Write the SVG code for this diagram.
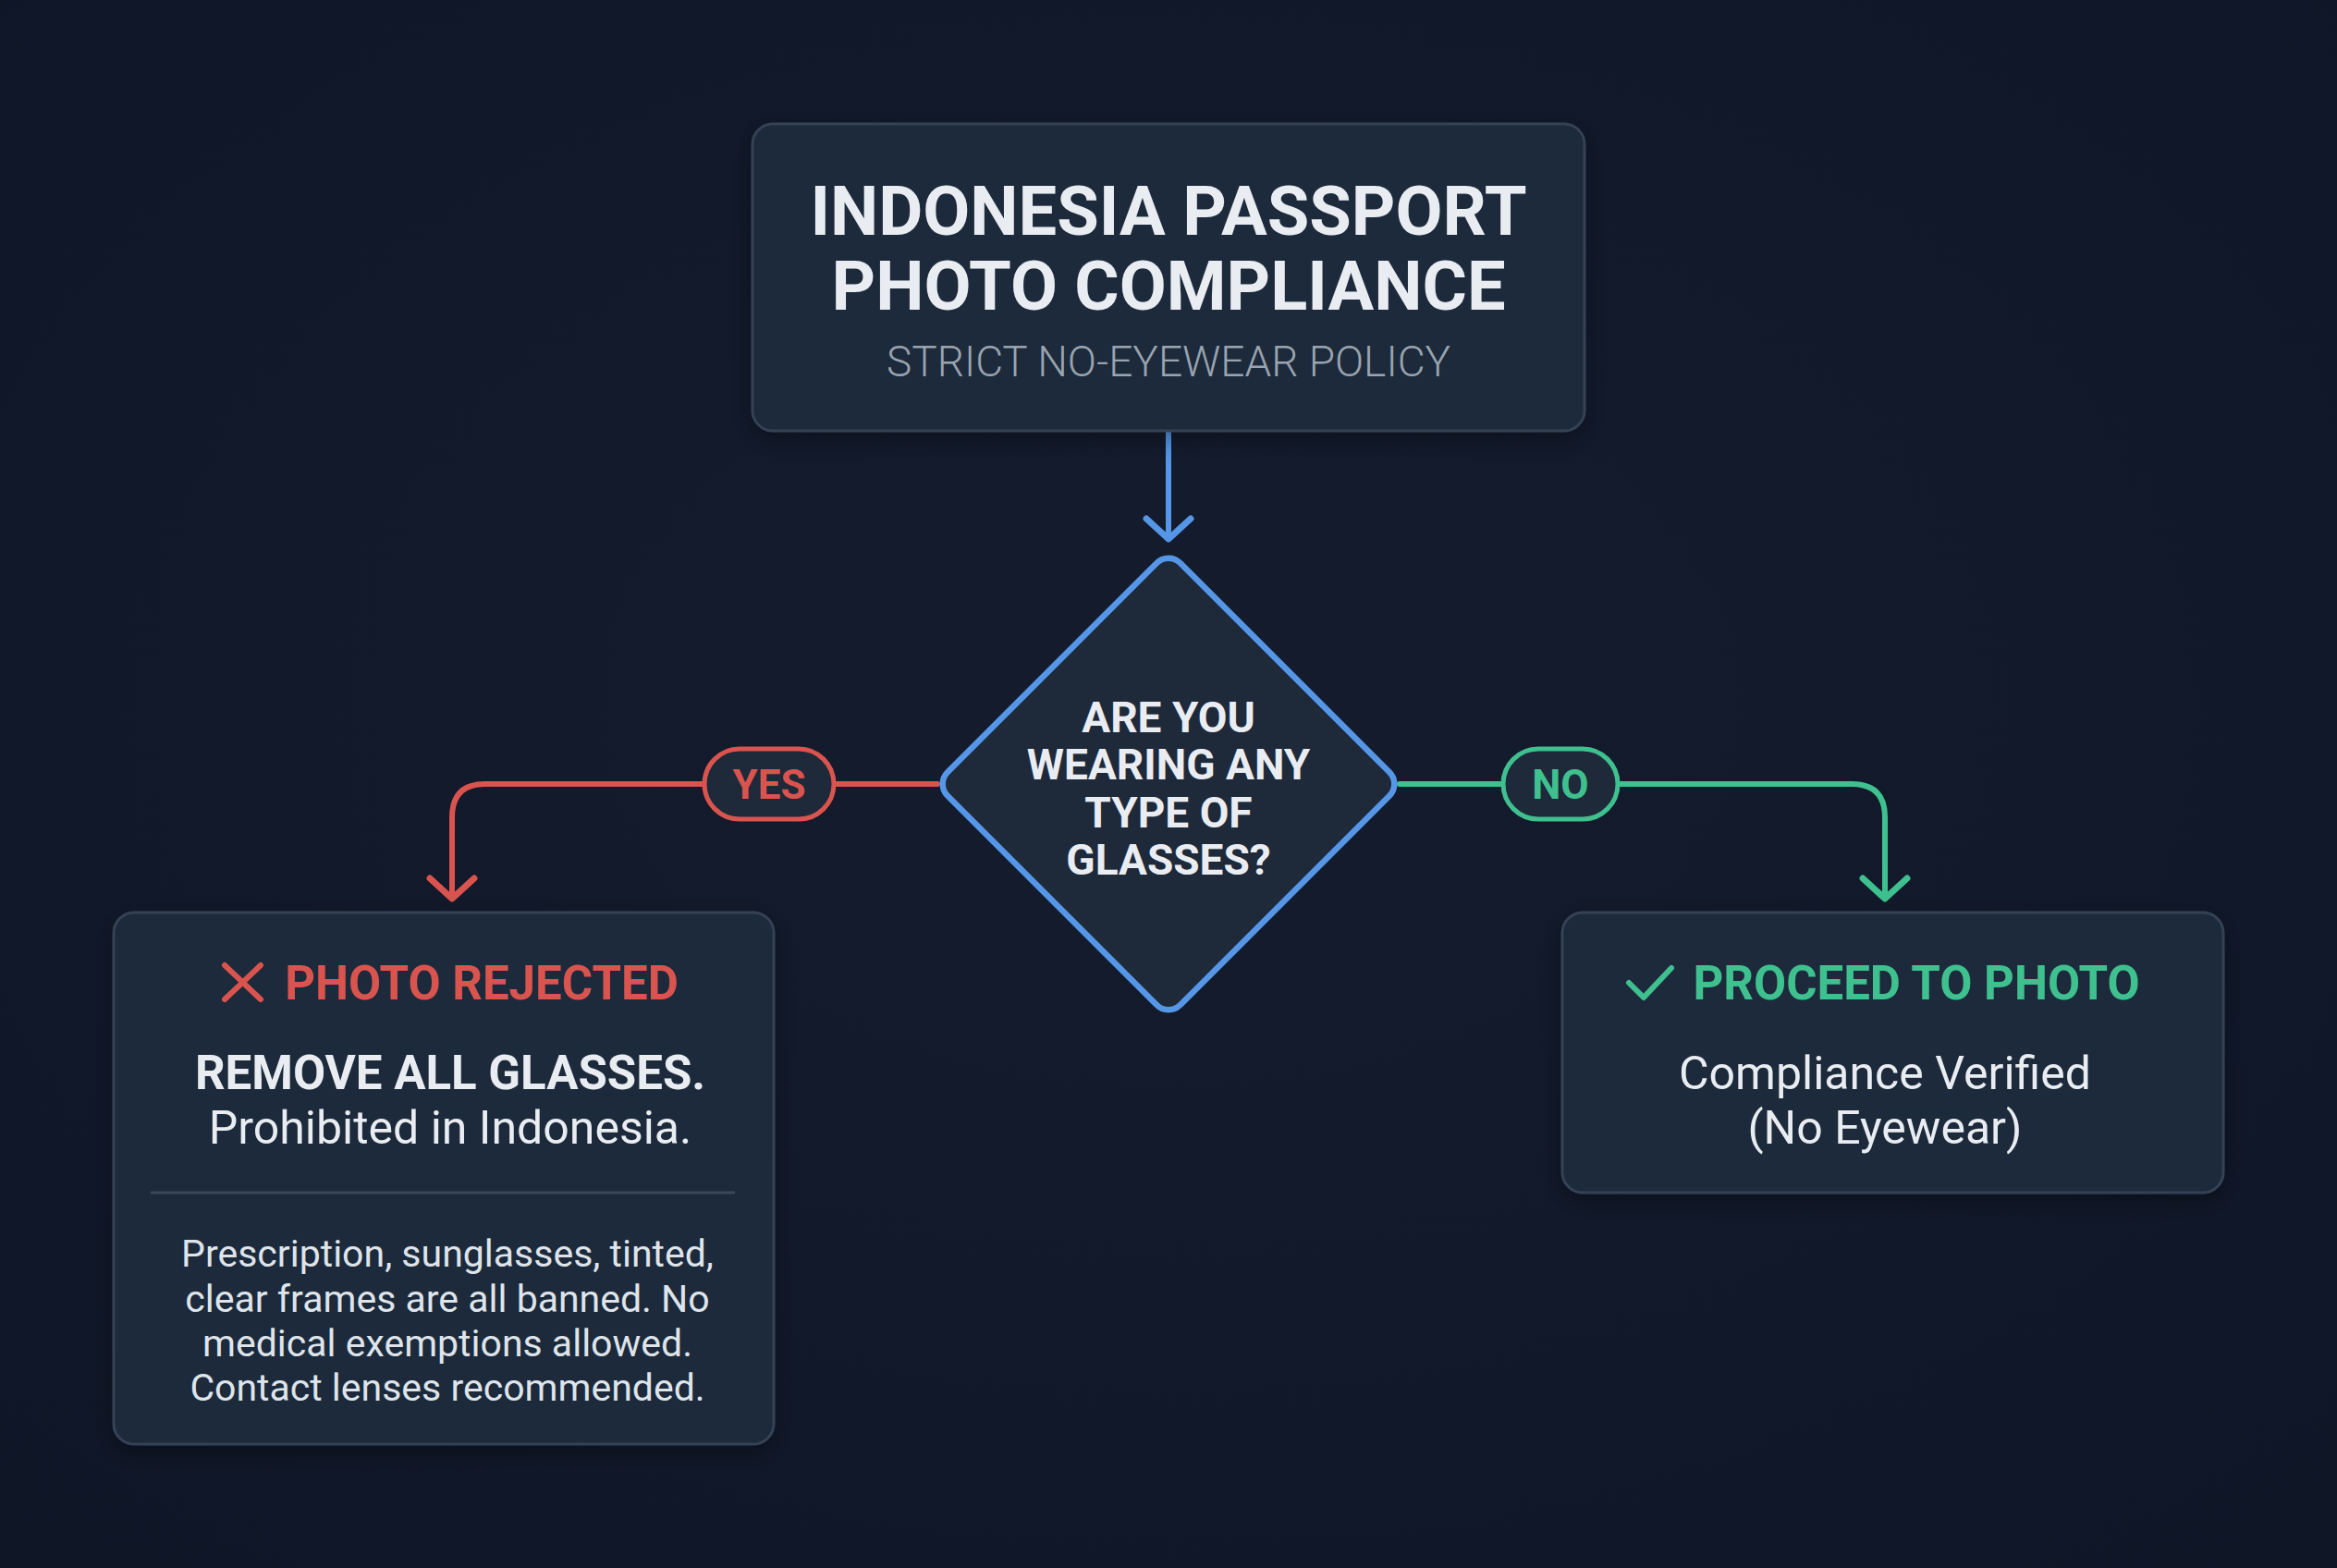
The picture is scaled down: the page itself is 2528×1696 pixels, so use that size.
<svg xmlns="http://www.w3.org/2000/svg" width="2528" height="1696" viewBox="0 0 2528 1696">
  <defs>
    <radialGradient id="bg" cx="50%" cy="45%" r="75%">
      <stop offset="0%" stop-color="#141c2e"/>
      <stop offset="100%" stop-color="#0f1626"/>
    </radialGradient>
    <filter id="shadow" x="-10%" y="-10%" width="120%" height="130%">
      <feDropShadow dx="0" dy="8" stdDeviation="12" flood-color="#000" flood-opacity="0.35"/>
    </filter>
    <marker id="arrBlue" markerUnits="userSpaceOnUse" markerWidth="60" markerHeight="60" viewBox="-30 -30 60 60" refX="0" refY="0" orient="auto">
      <path d="M -22 -24 L 0 0 L -22 24" fill="none" stroke="#5596e6" stroke-width="7" stroke-linecap="round" stroke-linejoin="round"/>
    </marker>
    <marker id="arrRed" markerUnits="userSpaceOnUse" markerWidth="60" markerHeight="60" viewBox="-30 -30 60 60" refX="0" refY="0" orient="auto">
      <path d="M -22 -24 L 0 0 L -22 24" fill="none" stroke="#d9544e" stroke-width="7" stroke-linecap="round" stroke-linejoin="round"/>
    </marker>
    <marker id="arrGreen" markerUnits="userSpaceOnUse" markerWidth="60" markerHeight="60" viewBox="-30 -30 60 60" refX="0" refY="0" orient="auto">
      <path d="M -22 -24 L 0 0 L -22 24" fill="none" stroke="#3fc08f" stroke-width="7" stroke-linecap="round" stroke-linejoin="round"/>
    </marker>
  </defs>
  <style>
    .box { fill: #1e293a; stroke: #344257; stroke-width: 3; }
    .t { font-family: Roboto, "Liberation Sans", sans-serif; text-anchor: middle; }
    .title { font-size: 74px; font-weight: 700; fill: #e9edf2; }
    .sub { font-size: 46px; font-weight: 300; fill: #9aa3af; }
    .q { font-size: 46px; font-weight: 700; fill: #e9edf2; }
    .pill { fill: #1e293a; stroke-width: 5; }
    .pilltxt { font-size: 44px; font-weight: 700; }
    .head { font-size: 51px; font-weight: 700; }
    .strong { font-size: 51px; font-weight: 700; fill: #e9edf2; }
    .body { font-size: 50px; font-weight: 400; fill: #e9edf2; }
    .small { font-size: 41px; font-weight: 400; fill: #dfe4ea; }
    .conn { fill: none; stroke-width: 6; stroke-linecap: round; stroke-linejoin: round; }
  </style>

  <rect x="0" y="0" width="2528" height="1696" fill="url(#bg)"/>

  <g id="connectors">
    <path class="conn" stroke="#5596e6" d="M 1264 468 L 1264 583" marker-end="url(#arrBlue)"/>
    <path class="conn" stroke="#d9544e" d="M 1014 848 L 525 848 Q 489 848 489 884 L 489 972" marker-end="url(#arrRed)"/>
    <path class="conn" stroke="#3fc08f" d="M 1514 848 L 2003 848 Q 2039 848 2039 884 L 2039 972" marker-end="url(#arrGreen)"/>
  </g>

  <g id="label-yes">
    <rect class="pill" stroke="#d9544e" x="762" y="810" width="140" height="76" rx="38"/>
    <text class="t pilltxt" fill="#d9544e" x="832" y="864">YES</text>
  </g>
  <g id="label-no">
    <rect class="pill" stroke="#3fc08f" x="1626" y="810" width="124" height="76" rx="38"/>
    <text class="t pilltxt" fill="#3fc08f" x="1688" y="864">NO</text>
  </g>

  <g id="node-title">
    <rect class="box" filter="url(#shadow)" x="814" y="134" width="900" height="332" rx="22"/>
    <text class="t title" x="1264" y="254">INDONESIA PASSPORT</text>
    <text class="t title" x="1264" y="335">PHOTO COMPLIANCE</text>
    <text class="t sub" x="1264" y="407">STRICT NO-EYEWEAR POLICY</text>
  </g>

  <g id="node-decision">
    <rect transform="translate(1264 848) rotate(45)" x="-178" y="-178" width="356" height="356" rx="18" fill="#1e293a" stroke="#5596e6" stroke-width="6.5"/>
    <text class="t q" x="1264" y="792">ARE YOU</text>
    <text class="t q" x="1264" y="843">WEARING ANY</text>
    <text class="t q" x="1264" y="895">TYPE OF</text>
    <text class="t q" x="1264" y="946">GLASSES?</text>
  </g>

  <g id="node-rejected">
    <rect class="box" filter="url(#shadow)" x="123" y="987" width="714" height="575" rx="22"/>
    <path d="M 243 1044 L 282 1081 M 282 1044 L 243 1081" stroke="#d9544e" stroke-width="6" stroke-linecap="round" fill="none"/>
    <text class="t head" fill="#d9544e" x="521" y="1081">PHOTO REJECTED</text>
    <text class="t strong" x="487" y="1178">REMOVE ALL GLASSES.</text>
    <text class="t body" x="487" y="1237">Prohibited in Indonesia.</text>
    <line x1="163" y1="1290" x2="795" y2="1290" stroke="#3a475b" stroke-width="3"/>
    <text class="t small" x="484" y="1370">Prescription, sunglasses, tinted,</text>
    <text class="t small" x="484" y="1419">clear frames are all banned. No</text>
    <text class="t small" x="484" y="1467">medical exemptions allowed.</text>
    <text class="t small" x="484" y="1515">Contact lenses recommended.</text>
  </g>

  <g id="node-proceed">
    <rect class="box" filter="url(#shadow)" x="1690" y="987" width="715" height="303" rx="22"/>
    <path d="M 1762 1063 L 1778 1079 L 1808 1047" stroke="#3fc08f" stroke-width="6" stroke-linecap="round" stroke-linejoin="round" fill="none"/>
    <text class="t head" fill="#3fc08f" x="2073" y="1081">PROCEED TO PHOTO</text>
    <text class="t body" x="2039" y="1178">Compliance Verified</text>
    <text class="t body" x="2039" y="1237">(No Eyewear)</text>
  </g>
</svg>
